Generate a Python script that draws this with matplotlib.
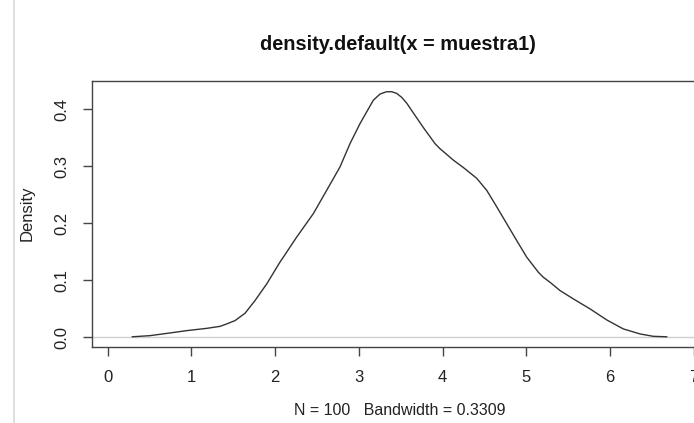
import matplotlib
matplotlib.use("Agg")
import matplotlib.pyplot as plt
from matplotlib.lines import Line2D

plt.rcParams['font.family'] = ['Liberation Sans', 'DejaVu Sans']

# density curve
dens_x = [0.294, 0.505, 0.744, 0.944, 1.183, 1.342, 1.422, 1.521, 1.640, 1.760,
          1.900, 2.058, 2.098, 2.258, 2.456, 2.616, 2.775, 2.895, 3.014, 3.173,
          3.254, 3.333, 3.393, 3.453, 3.513, 3.572, 3.711, 3.791, 3.851, 3.910,
          3.970, 4.050, 4.129, 4.249, 4.409, 4.528, 4.648, 4.767, 4.886, 5.006,
          5.145, 5.204, 5.284, 5.404, 5.563, 5.762, 5.962, 6.160, 6.360, 6.519,
          6.679]
dens_y = [0.001, 0.003, 0.0077, 0.0118, 0.0158, 0.0193, 0.0236, 0.0294, 0.0422, 0.0646,
          0.0939, 0.132, 0.1407, 0.176, 0.217, 0.258, 0.299, 0.340, 0.375, 0.416,
          0.427, 0.431, 0.431, 0.428, 0.421, 0.411, 0.381, 0.364, 0.352, 0.340,
          0.331, 0.321, 0.311, 0.298, 0.279, 0.258, 0.229, 0.1995, 0.170, 0.1407,
          0.1143, 0.1055, 0.0967, 0.0821, 0.0675, 0.050, 0.0306, 0.0148, 0.006, 0.0018,
          0.001]
x_ticks = [0, 1, 2, 3, 4, 5, 6, 7]
y_ticks = [0.0, 0.1, 0.2, 0.3, 0.4]
y_labels = ["0.0", "0.1", "0.2", "0.3", "0.4"]

W, H = 694, 423
fig = plt.figure(figsize=(W / 100, H / 100), dpi=100)
ax = fig.add_axes([92 / W, (H - 346.7) / H, (710 - 92) / W, (346.7 - 81) / H])

ax.axhline(0, color="#cfcfcf", lw=1)
ax.plot(dens_x, dens_y, color="#333333", lw=1, solid_joinstyle="round")

ax.set_xlim(-0.188, 7.196)
ax.set_ylim(-0.0164, 0.4498)
for s in ax.spines.values():
    s.set_color("#444444")
    s.set_linewidth(1)

ax.set_xticks(x_ticks)
ax.set_yticks(y_ticks)
ax.set_yticklabels(y_labels, rotation=90, va="center")
ax.tick_params(axis="both", direction="out", length=6.5, width=1, color="#444444",
               labelsize=12, labelcolor="#222222")
ax.tick_params(axis="x", pad=10)
ax.tick_params(axis="y", pad=9.5)

fig.text(397.5 / W, 1 - 45 / H, "density.default(x = muestra1)", ha="center", va="center",
         fontsize=14.4, fontweight="bold", color="#111111")
fig.text(400 / W, 1 - 410 / H, "N = 100   Bandwidth = 0.3309", ha="center", va="center",
         fontsize=11.5, color="#222222")
fig.text(27 / W, 1 - 213 / H, "Density", rotation=90, ha="center", va="center",
         fontsize=12, color="#222222")

fig.add_artist(Line2D([14 / W, 14 / W], [0, 1], color="#d9d9d9", lw=1.2))

fig.savefig("out.png", dpi=100)
